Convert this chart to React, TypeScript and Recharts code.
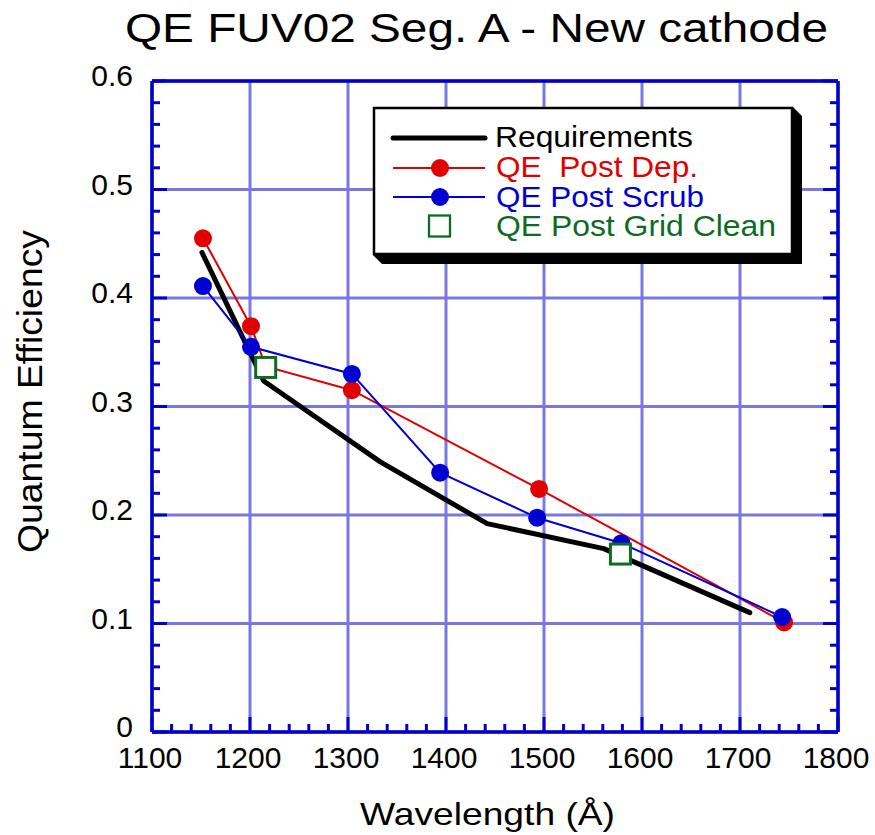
import React from 'react';
import { ComposedChart, Scatter, XAxis, YAxis, CartesianGrid, Legend } from 'recharts';

// ---------- data ----------
const reqWavelength = [1151, 1214, 1333, 1442, 1561, 1710];
const reqQE = [0.442, 0.3235, 0.249, 0.192, 0.169, 0.11];

const depWavelength = [1152, 1201, 1216, 1304, 1495, 1745];
const depQE = [0.455, 0.374, 0.337, 0.315, 0.224, 0.101];

const scrubWavelength = [1152, 1201, 1304, 1394, 1493, 1579, 1743];
const scrubQE = [0.411, 0.355, 0.33, 0.239, 0.1975, 0.174, 0.106];

const gridCleanWavelength = [1216, 1578];
const gridCleanQE = [0.336, 0.164];

const xMajorTicks = [1100, 1200, 1300, 1400, 1500, 1600, 1700, 1800];
const xMinorTicks = [
  1100, 1120, 1140, 1160, 1180, 1200, 1220, 1240, 1260, 1280, 1300, 1320, 1340, 1360, 1380,
  1400, 1420, 1440, 1460, 1480, 1500, 1520, 1540, 1560, 1580, 1600, 1620, 1640, 1660, 1680,
  1700, 1720, 1740, 1760, 1780, 1800,
];
const yMajorTicks = [0, 0.1, 0.2, 0.3, 0.4, 0.5, 0.6];
const yMinorTicks = [
  0, 0.02, 0.04, 0.06, 0.08, 0.1, 0.12, 0.14, 0.16, 0.18, 0.2, 0.22, 0.24, 0.26, 0.28, 0.3,
  0.32, 0.34, 0.36, 0.38, 0.4, 0.42, 0.44, 0.46, 0.48, 0.5, 0.52, 0.54, 0.56, 0.58, 0.6,
];

const titleText = 'QE FUV02 Seg. A - New cathode';
const xLabelText = 'Wavelength (\u00C5)';
const yLabelText = 'Quantum Efficiency';
const legendNames = ['Requirements', 'QE  Post Dep.', 'QE Post Scrub', 'QE Post Grid Clean'];

// ---------- styles ----------
const FONT = '"Liberation Sans", Arial, Helvetica, sans-serif';
const AXIS = '#0000cc';
const GRID = '#7878e0';
const RED = '#e00000';
const BLUE = '#0000d0';
const GREEN = '#0e6b22';

const zip = (xs: number[], ys: number[]) => xs.map((x, i) => ({ x, y: ys[i] }));
const reqData = zip(reqWavelength, reqQE);
const depData = zip(depWavelength, depQE);
const scrubData = zip(scrubWavelength, scrubQE);
const gridCleanData = zip(gridCleanWavelength, gridCleanQE);

const isMajorX = (v: number) => Math.abs(v / 100 - Math.round(v / 100)) < 1e-6;
const isMajorY = (v: number) => Math.abs(v * 10 - Math.round(v * 10)) < 1e-6;
const fmtY = (v: number) => (v === 0 ? '0' : v.toFixed(1));

const BottomTick = (props: any) => {
  const { x, y, payload } = props;
  const v = payload.value;
  const major = isMajorX(v);
  return (
    <g>
      <line x1={x} x2={x} y1={y} y2={y - (major ? 15 : 8)} stroke={AXIS} strokeWidth={3} />
      {major && (
        <text x={x - 2} y={y + 36} textAnchor="middle" fontSize={30} fontFamily={FONT} fill="#000">
          {v}
        </text>
      )}
    </g>
  );
};

const TopTick = (props: any) => {
  const { x, y, payload } = props;
  const major = isMajorX(payload.value);
  return <line x1={x} x2={x} y1={y} y2={y + (major ? 15 : 8)} stroke={AXIS} strokeWidth={3} />;
};

const LeftTick = (props: any) => {
  const { x, y, payload } = props;
  const v = payload.value;
  const major = isMajorY(v);
  return (
    <g>
      <line x1={x} x2={x + (major ? 15 : 8)} y1={y} y2={y} stroke={AXIS} strokeWidth={3} />
      {major && (
        <text x={x - 19} y={y + 5} textAnchor="end" fontSize={30} fontFamily={FONT} fill="#000">
          {fmtY(v)}
        </text>
      )}
    </g>
  );
};

const RightTick = (props: any) => {
  const { x, y, payload } = props;
  const major = isMajorY(payload.value);
  return <line x1={x} x2={x - (major ? 15 : 8)} y1={y} y2={y} stroke={AXIS} strokeWidth={3} />;
};

const Dot = (color: string) => (props: any) => {
  const { cx, cy } = props;
  if (cx == null || cy == null) return <g />;
  return <circle cx={cx} cy={cy} r={9} fill={color} />;
};

const SquareShape = (props: any) => {
  const { cx, cy } = props;
  if (cx == null || cy == null) return <g />;
  return <rect x={cx - 10} y={cy - 10} width={20} height={20} fill="#fff" stroke={GREEN} strokeWidth={3} />;
};

const NoShape = () => <g />;

const verticalGen = (args: any) => {
  const scale = args?.xAxis?.scale;
  if (!scale) return [];
  const f = typeof scale === 'function' ? scale : scale.map;
  return xMajorTicks.map((v) => f(v));
};

const horizontalGen = (args: any) => {
  const scale = args?.yAxis?.scale;
  if (!scale) return [];
  const f = typeof scale === 'function' ? scale : scale.map;
  return yMajorTicks.map((v) => f(v));
};

const LegendBox = () => (
  <svg width={440} height={170} style={{ display: 'block', overflow: 'visible' }}>
    <polygon points="420,0 429,9 429,157 9,157 0,148 420,148" fill="#000" />
    <rect x={1} y={1} width={418} height={146} fill="#fff" stroke="#000" strokeWidth={2.5} />
    <line x1={20} x2={112} y1={31} y2={31} stroke="#000" strokeWidth={5} strokeLinecap="round" />
    <text x={122} y={40} fontSize={29} fontFamily={FONT} fill="#000" textLength={198} lengthAdjust="spacingAndGlyphs">
      {legendNames[0]}
    </text>
    <line x1={20} x2={112} y1={61} y2={61} stroke={RED} strokeWidth={2} />
    <circle cx={67} cy={61} r={9} fill={RED} />
    <text x={123} y={70} fontSize={29} fontFamily={FONT} fill={RED} style={{ whiteSpace: 'pre' }} textLength={202} lengthAdjust="spacingAndGlyphs">
      {legendNames[1]}
    </text>
    <line x1={20} x2={112} y1={90} y2={90} stroke={BLUE} strokeWidth={2} />
    <circle cx={67} cy={90} r={9} fill={BLUE} />
    <text x={123} y={99.5} fontSize={29} fontFamily={FONT} fill={BLUE} textLength={208} lengthAdjust="spacingAndGlyphs">
      {legendNames[2]}
    </text>
    <rect x={56} y={108.5} width={21} height={21} fill="#fff" stroke={GREEN} strokeWidth={2.3} />
    <text x={123} y={129} fontSize={29} fontFamily={FONT} fill={GREEN} textLength={280} lengthAdjust="spacingAndGlyphs">
      {legendNames[3]}
    </text>
  </svg>
);

export default function App() {
  return (
    <div style={{ position: 'absolute', left: 0, top: 0, width: 875, height: 835, background: '#fff' }}>
      <ComposedChart width={875} height={835} margin={{ top: 71, right: 27, bottom: 0, left: 0 }}>
        <CartesianGrid
          xAxisId="x"
          yAxisId="y"
          stroke={GRID}
          strokeWidth={3}
          verticalCoordinatesGenerator={verticalGen}
          horizontalCoordinatesGenerator={horizontalGen}
        />
        <XAxis
          xAxisId="x"
          dataKey="x"
          type="number"
          orientation="bottom"
          domain={[1100, 1800]}
          ticks={xMinorTicks}
          interval={0}
          height={103}
          tickSize={0}
          tickMargin={0}
          tickLine={false}
          tick={BottomTick}
          axisLine={{ stroke: AXIS, strokeWidth: 3.5 }}
          allowDataOverflow
        />
        <XAxis
          xAxisId="top"
          type="number"
          orientation="top"
          domain={[1100, 1800]}
          ticks={xMinorTicks}
          interval={0}
          height={10}
          tickSize={0}
          tickMargin={0}
          tickLine={false}
          tick={TopTick}
          axisLine={{ stroke: AXIS, strokeWidth: 3.5 }}
          allowDataOverflow
        />
        <YAxis
          yAxisId="y"
          dataKey="y"
          type="number"
          orientation="left"
          domain={[0, 0.6]}
          ticks={yMinorTicks}
          interval={0}
          width={152}
          tickSize={0}
          tickMargin={0}
          tickLine={false}
          tick={LeftTick}
          axisLine={{ stroke: AXIS, strokeWidth: 3.5 }}
          allowDataOverflow
        />
        <YAxis
          yAxisId="right"
          type="number"
          orientation="right"
          domain={[0, 0.6]}
          ticks={yMinorTicks}
          interval={0}
          width={10}
          tickSize={0}
          tickMargin={0}
          tickLine={false}
          tick={RightTick}
          axisLine={{ stroke: AXIS, strokeWidth: 3.5 }}
          allowDataOverflow
        />
        <Scatter
          name={legendNames[0]}
          data={reqData}
          xAxisId="x"
          yAxisId="y"
          line={{ stroke: '#000', strokeWidth: 5, strokeLinecap: 'round', strokeLinejoin: 'round' }}
          shape={NoShape}
          isAnimationActive={false}
        />
        <Scatter
          name={legendNames[1]}
          data={depData}
          xAxisId="x"
          yAxisId="y"
          line={{ stroke: RED, strokeWidth: 2 }}
          shape={Dot(RED)}
          isAnimationActive={false}
        />
        <Scatter
          name={legendNames[2]}
          data={scrubData}
          xAxisId="x"
          yAxisId="y"
          line={{ stroke: BLUE, strokeWidth: 2 }}
          shape={Dot(BLUE)}
          isAnimationActive={false}
        />
        <Scatter
          name={legendNames[3]}
          data={gridCleanData}
          xAxisId="x"
          yAxisId="y"
          shape={SquareShape}
          isAnimationActive={false}
        />
        <Legend
          layout="vertical"
          align="center"
          verticalAlign="middle"
          wrapperStyle={{ left: 373, top: 107, width: 440, height: 170 }}
          content={() => <LegendBox />}
        />
      </ComposedChart>
      <svg
        width={875}
        height={835}
        style={{ position: 'absolute', left: 0, top: 0, pointerEvents: 'none' }}
      >
        <text x={125} y={42} fontSize={40} fontFamily={FONT} fill="#000" textLength={703} lengthAdjust="spacingAndGlyphs">
          {titleText}
        </text>
        <text x={360} y={825} fontSize={32} fontFamily={FONT} fill="#000" textLength={255} lengthAdjust="spacingAndGlyphs">
          {xLabelText}
        </text>
        <text
          transform="translate(42,391.5) rotate(-90)"
          x={0}
          y={0}
          textAnchor="middle"
          fontSize={35}
          fontFamily={FONT}
          fill="#000"
          textLength={323}
          lengthAdjust="spacingAndGlyphs"
        >
          {yLabelText}
        </text>
      </svg>
    </div>
  );
}
